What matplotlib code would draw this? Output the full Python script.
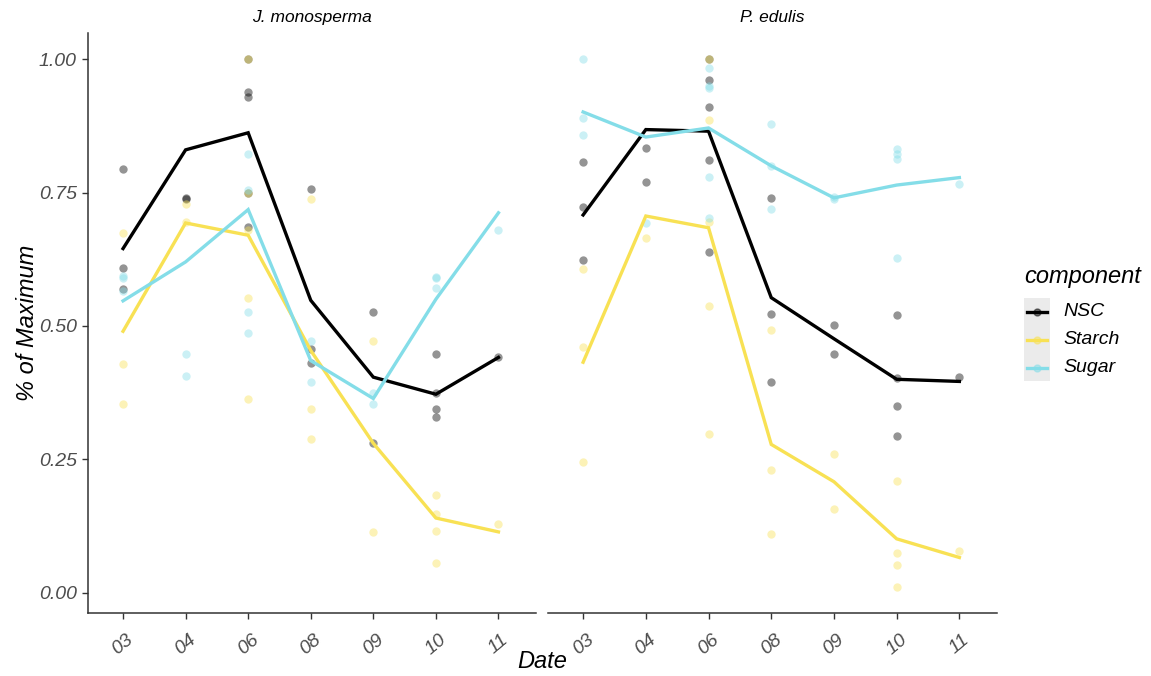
import numpy as np
import matplotlib
matplotlib.use('Agg')
import matplotlib.pyplot as plt
from matplotlib.lines import Line2D
from matplotlib.patches import Rectangle

plt.rcParams['font.family'] = ['Liberation Sans', 'DejaVu Sans']

# sampling dates (month) and species panels
dates = ['03', '04', '06', '08', '09', '10', '11']
species = ['J. monosperma', 'P. edulis']
components = ['NSC', 'Starch', 'Sugar']

# J. monosperma - individual samples per date
jm_nsc_pts = [[0.795, 0.609, 0.570], [0.739, 0.737], [1.00, 0.938, 0.929, 0.750, 0.686],
              [0.757, 0.456, 0.430], [0.527, 0.280], [0.447, 0.374, 0.344, 0.329], [0.441]]
jm_starch_pts = [[0.675, 0.428, 0.353], [0.729, 0.695], [1.00, 0.750, 0.680, 0.553, 0.363],
                 [0.738, 0.344, 0.288], [0.471, 0.114], [0.183, 0.148, 0.116, 0.056], [0.129]]
jm_sugar_pts = [[0.594, 0.589, 0.566], [0.447, 0.406], [0.822, 0.755, 0.527, 0.486],
                [0.471, 0.394], [0.374, 0.353], [0.591, 0.589, 0.572], [0.679]]
# J. monosperma - mean lines
jm_nsc_line = [0.645, 0.830, 0.862, 0.548, 0.404, 0.372, 0.441]
jm_starch_line = [0.490, 0.693, 0.670, 0.454, 0.280, 0.140, 0.114]
jm_sugar_line = [0.547, 0.620, 0.718, 0.435, 0.364, 0.550, 0.712]

# P. edulis - individual samples per date
pe_nsc_pts = [[0.808, 0.722, 0.624], [0.834, 0.769], [1.00, 0.961, 0.910, 0.811, 0.639],
              [0.740, 0.523, 0.394], [0.501, 0.447], [0.520, 0.402, 0.350, 0.293], [0.404]]
pe_starch_pts = [[0.606, 0.460, 0.245], [0.664], [1.00, 0.886, 0.695, 0.538, 0.297],
                 [0.493, 0.230, 0.110], [0.260, 0.157], [0.209, 0.075, 0.052, 0.011], [0.079]]
pe_sugar_pts = [[1.00, 0.890, 0.858], [0.692], [0.983, 0.950, 0.946, 0.779, 0.703],
                [0.878, 0.800, 0.720], [0.742, 0.738], [0.832, 0.822, 0.813, 0.628], [0.766]]
# P. edulis - mean lines
pe_nsc_line = [0.708, 0.868, 0.865, 0.553, 0.476, 0.400, 0.396]
pe_starch_line = [0.432, 0.706, 0.684, 0.278, 0.208, 0.101, 0.066]
pe_sugar_line = [0.901, 0.854, 0.871, 0.800, 0.740, 0.764, 0.778]

colors = {'NSC': '#000000', 'Starch': '#F8E154', 'Sugar': '#84DDE8'}
tick_col = '#4D4D4D'

panels = [
    {'NSC': (jm_nsc_pts, jm_nsc_line), 'Starch': (jm_starch_pts, jm_starch_line),
     'Sugar': (jm_sugar_pts, jm_sugar_line)},
    {'NSC': (pe_nsc_pts, pe_nsc_line), 'Starch': (pe_starch_pts, pe_starch_line),
     'Sugar': (pe_sugar_pts, pe_sugar_line)},
]

W, H = 1151, 676
fig = plt.figure(figsize=(W / 100, H / 100), dpi=100)

# panel extents in pixels (left, right)
px = [(88, 536), (548, 997)]
top, bottom = 33, 613

x = np.arange(len(dates))
for i, (name, data) in enumerate(zip(species, panels)):
    l, r = px[i]
    ax = fig.add_axes([l / W, 1 - bottom / H, (r - l) / W, (bottom - top) / H])
    # points first, lines on top
    for comp in components:
        pts, line = data[comp]
        for j, vals in enumerate(pts):
            ax.scatter([x[j]] * len(vals), vals, s=36, color=colors[comp],
                       alpha=0.42, linewidths=0, zorder=2)
    for comp in components:
        pts, line = data[comp]
        ax.plot(x, line, color=colors[comp], lw=2.4, zorder=3,
                solid_joinstyle='miter')

    ax.set_xlim(-0.56, 6.6)
    ax.set_ylim(-0.038, 1.049)
    ax.set_xticks(x)
    ax.set_xticklabels(dates, rotation=40, fontstyle='italic', color=tick_col,
                       fontsize=14)
    for lab in ax.get_xticklabels():
        lab.set_ha('center')
    ax.tick_params(axis='x', length=4, width=1, color='#333333', pad=9)
    for s in ['top', 'right']:
        ax.spines[s].set_visible(False)
    ax.spines['bottom'].set_color('#333333')
    ax.spines['bottom'].set_linewidth(1.1)
    if i == 0:
        ax.set_yticks([0, 0.25, 0.5, 0.75, 1.0])
        ax.set_yticklabels(['0.00', '0.25', '0.50', '0.75', '1.00'],
                           fontstyle='italic', color=tick_col, fontsize=14)
        ax.tick_params(axis='y', length=4, width=1, color='#333333', pad=4)
        ax.spines['left'].set_color('#333333')
        ax.spines['left'].set_linewidth(1.1)
        ax.set_ylabel('% of Maximum', fontsize=17, fontstyle='italic', labelpad=0)
    else:
        ax.spines['left'].set_visible(False)
        ax.set_yticks([])
    ax.set_title(name, fontsize=12.5, fontstyle='italic', pad=8)

fig.text(542 / W, 1 - 662 / H, 'Date', fontsize=17, fontstyle='italic',
         ha='center', va='center')

# legend, drawn in figure coordinates
fig.text(1024 / W, 1 - 276 / H, 'component', fontsize=17, fontstyle='italic',
         ha='left', va='center')
fig.add_artist(Rectangle((1024 / W, 1 - 381 / H), 26 / W, 83 / H,
                         transform=fig.transFigure, color='#EBEBEB', lw=0))
for k, comp in enumerate(components):
    yk = 1 - (312 + k * 28) / H
    fig.add_artist(Line2D([1027 / W, 1047 / W], [yk, yk], color=colors[comp],
                          lw=2.4, transform=fig.transFigure))
    fig.add_artist(Line2D([1037 / W], [yk], marker='o', markersize=5,
                          color=colors[comp], alpha=0.5, transform=fig.transFigure))
    fig.text(1063 / W, yk, comp, fontsize=14, fontstyle='italic', ha='left',
             va='center')

fig.savefig('out.png', dpi=100)
